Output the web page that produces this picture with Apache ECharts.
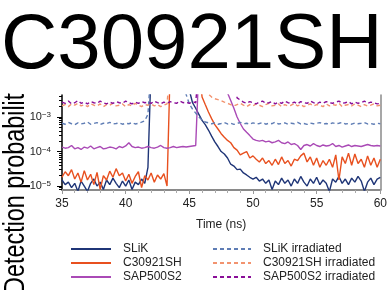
<!DOCTYPE html>
<html><head><meta charset="utf-8">
<script src="https://cdn.jsdelivr.net/npm/echarts@6/dist/echarts.min.js"></script>
<style>html,body{margin:0;padding:0;background:#fff}#c{width:390px;height:290px}</style>
</head><body><div id="c"></div>
<script>
const FONT = 'Liberation Sans, Arial, sans-serif';
const times = [35,35.25,35.5,35.75,36,36.25,36.5,36.75,37,37.25,37.5,37.75,38,38.25,38.5,38.75,39,39.25,39.5,39.75,
40,40.25,40.5,40.75,41,41.25,41.5,41.75,42,42.25,42.5,42.75,43,43.25,43.5,43.75,44,44.25,44.5,44.75,
45,45.25,45.5,45.75,46,46.25,46.5,46.75,47,47.25,47.5,47.75,48,48.25,48.5,48.75,49,49.25,49.5,49.75,
50,50.25,50.5,50.75,51,51.25,51.5,51.75,52,52.25,52.5,52.75,53,53.25,53.5,53.75,54,54.25,54.5,54.75,
55,55.25,55.5,55.75,56,56.25,56.5,56.75,57,57.25,57.5,57.75,58,58.25,58.5,58.75,59,59.25,59.5,59.75,60];

const slik = [1.5e-5,1.1e-5,1.3e-5,9e-6,1.2e-5,7e-6,1.4e-5,1.0e-5,7e-6,1.2e-5,
1.6e-5,1.0e-5,1.3e-5,8e-6,1.5e-5,1.1e-5,1.7e-5,1.2e-5,9e-6,1.4e-5,
1.0e-5,1.5e-5,8e-6,1.3e-5,1.1e-5,1.6e-5,1.2e-5,3.5e-5,3e-2,3e-2,
3e-2,3e-2,3e-2,3e-2,3e-2,3e-2,3e-2,3e-2,3e-2,3e-2,
6e-3,2.6e-3,1.8e-3,1.2e-3,8e-4,6e-4,4.2e-4,2.8e-4,1.9e-4,1.4e-4,
1.0e-4,8.5e-5,6.5e-5,4.3e-5,3.8e-5,3.0e-5,3.1e-5,2.4e-5,2.1e-5,1.8e-5,
1.6e-5,1.8e-5,1.4e-5,1.6e-5,1.2e-5,1.5e-5,8e-6,1.4e-5,1.1e-5,1.7e-5,
1.2e-5,1.5e-5,1.0e-5,1.6e-5,1.2e-5,1.9e-5,1.3e-5,1.0e-5,1.6e-5,1.2e-5,
1.8e-5,1.1e-5,1.5e-5,1.2e-5,7e-6,1.6e-5,1.3e-5,1.9e-5,1.2e-5,1.6e-5,
1.1e-5,1.7e-5,1.3e-5,1.9e-5,1.4e-5,7e-6,1.3e-5,1.7e-5,1.1e-5,1.6e-5,1.8e-5];

const c30921sh = [1.8e-5,2.6e-5,2.0e-5,3.0e-5,1.6e-5,2.4e-5,1.3e-5,2.8e-5,1.5e-5,2.2e-5,
1.1e-5,2.5e-5,8e-6,2.0e-5,1.5e-5,2.7e-5,1.8e-5,3.2e-5,2.0e-5,2.4e-5,
1.4e-5,2.2e-5,1.2e-5,1.9e-5,2.6e-5,9e-6,2.0e-5,1.5e-5,2.4e-5,1.3e-5,
2.1e-5,1.6e-5,2.3e-5,1.0e-5,3e-2,3e-2,3e-2,3e-2,3e-2,3e-2,
3e-2,3e-2,3e-2,3e-2,3.8e-3,2.3e-3,1.4e-3,9e-4,6e-4,4.5e-4,
3.3e-4,2.6e-4,2.1e-4,1.8e-4,1.3e-4,1.1e-4,8e-5,9e-5,1.0e-4,6.5e-5,
7.5e-5,6e-5,5e-5,6.5e-5,4.5e-5,5.5e-5,4e-5,6e-5,4.2e-5,7e-5,
4.5e-5,5.5e-5,3.8e-5,6e-5,5.5e-5,7.5e-5,9e-5,5e-5,7e-5,4e-5,
6.5e-5,3.5e-5,5.5e-5,4e-5,6e-5,3.5e-5,8e-5,1.5e-5,7e-5,4.5e-5,
9e-5,4e-5,8.5e-5,4.5e-5,6e-5,3.5e-5,7.5e-5,4e-5,6.5e-5,3.5e-5,6e-5];

const sap500s2 = [1.35e-4,1.25e-4,1.3e-4,1.5e-4,1.2e-4,1.3e-4,1.15e-4,1.35e-4,1.25e-4,1.45e-4,
1.2e-4,1.3e-4,1.4e-4,1.2e-4,1.25e-4,1.35e-4,1.3e-4,1.2e-4,1.4e-4,1.3e-4,
1.45e-4,1.8e-4,1.4e-4,1.3e-4,1.35e-4,1.25e-4,1.3e-4,1.4e-4,1.3e-4,1.25e-4,
1.35e-4,1.5e-4,1.3e-4,1.25e-4,1.3e-4,1.4e-4,1.3e-4,1.35e-4,1.4e-4,1.35e-4,
1.4e-4,1.45e-4,1.5e-4,3e-2,3e-2,3e-2,3e-2,3e-2,3e-2,3e-2,
3e-2,3e-2,5e-3,3e-3,1.8e-3,1.0e-3,6.5e-4,4.5e-4,3.6e-4,2.9e-4,
2.3e-4,2.1e-4,2.0e-4,2.1e-4,1.9e-4,2.0e-4,1.8e-4,1.9e-4,2.1e-4,1.8e-4,
1.7e-4,1.9e-4,1.6e-4,1.7e-4,1.5e-4,1.15e-4,1.5e-4,1.6e-4,1.45e-4,1.7e-4,
1.5e-4,1.4e-4,1.55e-4,1.45e-4,1.5e-4,1.7e-4,1.4e-4,1.5e-4,1.35e-4,1.45e-4,
1.55e-4,1.4e-4,1.5e-4,1.45e-4,1.4e-4,1.5e-4,1.6e-4,1.5e-4,1.45e-4,1.5e-4,1.45e-4];

const slikIrr = [6.6e-4,6.2e-4,7.0e-4,6.4e-4,6.0e-4,6.8e-4,6.3e-4,6.6e-4,7.2e-4,6.2e-4,
6.5e-4,6.9e-4,6.1e-4,6.6e-4,6.4e-4,7.0e-4,6.3e-4,6.5e-4,6.8e-4,6.2e-4,
6.6e-4,6.4e-4,6.9e-4,6.3e-4,6.6e-4,7.1e-4,7.8e-4,1.2e-3,3e-2,3e-2,
3e-2,3e-2,3e-2,3e-2,3e-2,3e-2,3e-2,3e-2,3e-2,4.5e-3,
2.4e-3,1.7e-3,1.3e-3,1.0e-3,8.2e-4,7.2e-4,6.8e-4,6.4e-4,6.7e-4,6.2e-4,
6.5e-4,6.9e-4,6.3e-4,6.6e-4,6.1e-4,6.5e-4,7.0e-4,6.4e-4,6.6e-4,6.2e-4,
6.8e-4,6.3e-4,6.5e-4,6.9e-4,6.2e-4,6.6e-4,6.4e-4,7.1e-4,6.3e-4,6.5e-4,
6.8e-4,6.2e-4,6.6e-4,6.4e-4,7.0e-4,6.3e-4,6.5e-4,6.1e-4,6.7e-4,6.4e-4,
6.6e-4,6.9e-4,6.3e-4,6.5e-4,6.2e-4,6.8e-4,6.4e-4,6.6e-4,7.0e-4,6.3e-4,
6.5e-4,6.2e-4,6.7e-4,6.4e-4,6.6e-4,6.9e-4,6.3e-4,6.5e-4,6.2e-4,6.6e-4,6.4e-4];

const c30921shIrr = [2.1e-3,2.3e-3,2.0e-3,2.4e-3,2.2e-3,2.5e-3,2.1e-3,2.3e-3,2.0e-3,2.4e-3,
2.2e-3,2.1e-3,2.4e-3,2.0e-3,2.3e-3,2.2e-3,2.5e-3,2.1e-3,2.2e-3,2.4e-3,
2.0e-3,2.3e-3,2.1e-3,2.5e-3,2.2e-3,2.0e-3,2.3e-3,2.2e-3,2.4e-3,2.1e-3,
2.3e-3,2.0e-3,2.2e-3,2.4e-3,3e-2,3e-2,3e-2,3e-2,3e-2,3e-2,
3e-2,3e-2,3e-2,3e-2,3e-2,3e-2,4.6e-3,3.8e-3,3.4e-3,3.2e-3,
3.0e-3,2.7e-3,2.5e-3,2.3e-3,2.1e-3,2.3e-3,2.5e-3,2.2e-3,2.0e-3,2.3e-3,
2.1e-3,2.4e-3,2.2e-3,2.0e-3,2.3e-3,2.5e-3,2.1e-3,2.2e-3,2.4e-3,2.0e-3,
2.3e-3,2.1e-3,2.2e-3,2.5e-3,2.1e-3,2.3e-3,2.0e-3,2.2e-3,2.4e-3,2.1e-3,
2.3e-3,2.2e-3,2.0e-3,2.4e-3,2.1e-3,2.3e-3,2.2e-3,2.5e-3,2.0e-3,2.2e-3,
2.3e-3,2.1e-3,2.4e-3,2.2e-3,2.0e-3,2.3e-3,2.1e-3,2.2e-3,2.4e-3,2.1e-3,2.2e-3];

const sap500s2Irr = [2.7e-3,2.5e-3,2.9e-3,2.4e-3,2.6e-3,3.0e-3,2.5e-3,2.7e-3,2.4e-3,2.8e-3,
2.6e-3,2.5e-3,2.9e-3,2.6e-3,2.4e-3,2.7e-3,2.5e-3,2.8e-3,2.6e-3,2.5e-3,
2.9e-3,2.6e-3,2.4e-3,2.7e-3,2.5e-3,2.8e-3,2.6e-3,2.7e-3,2.5e-3,2.9e-3,
2.6e-3,2.4e-3,2.7e-3,2.5e-3,2.8e-3,2.6e-3,2.5e-3,2.9e-3,2.6e-3,2.7e-3,
2.5e-3,2.8e-3,2.6e-3,3e-2,3e-2,3e-2,3e-2,3e-2,3e-2,3e-2,
3e-2,3e-2,3e-2,3e-2,3e-2,3.6e-3,3.1e-3,2.7e-3,2.5e-3,2.8e-3,
2.6e-3,2.4e-3,2.7e-3,2.9e-3,2.5e-3,2.6e-3,2.8e-3,2.4e-3,2.7e-3,2.5e-3,
2.9e-3,2.6e-3,2.5e-3,2.7e-3,2.4e-3,2.8e-3,2.6e-3,2.5e-3,2.9e-3,2.6e-3,
2.4e-3,2.7e-3,2.5e-3,2.8e-3,2.6e-3,2.5e-3,2.7e-3,2.9e-3,2.5e-3,2.6e-3,
2.8e-3,2.4e-3,2.7e-3,2.5e-3,2.6e-3,2.9e-3,2.5e-3,2.7e-3,2.6e-3,2.4e-3,2.5e-3];

const seriesNames = ['SLiK','C30921SH','SAP500S2','SLiK irradiated','C30921SH irradiated','SAP500S2 irradiated'];
const seriesColors = ['#1f3577','#e8501f','#aa4ab6','#5f7db5','#f2936f','#8a0e98'];
const majorYTicks = [1e-5,1e-4,1e-3];
const minorYTicks = [8e-6,9e-6,2e-5,3e-5,4e-5,5e-5,6e-5,7e-5,8e-5,9e-5,2e-4,3e-4,4e-4,5e-4,6e-4,7e-4,8e-4,9e-4,2e-3,3e-3,4e-3];
const Y_MIN = 7.7e-6, Y_MAX = 4.35e-3;

const pairs = arr => times.map((t, i) => [t, arr[i]]);
const allData = [slik, c30921sh, sap500s2, slikIrr, c30921shIrr, sap500s2Irr];

const chart = echarts.init(document.getElementById('c'), null, {renderer: 'canvas'});
const logAxisBase = {type: 'log', logBase: 10, min: Y_MIN, max: Y_MAX, splitLine: {show: false}};
const legendBase = {orient: 'vertical', top: 243, padding: 0, itemHeight: 14, itemGap: 2,
  itemStyle: {opacity: 0},
  textStyle: {fontSize: 12, color: '#222', fontFamily: FONT, padding: [0, 0, 0, 7]}};

chart.setOption({
  animation: false,
  backgroundColor: '#fff',
  textStyle: {fontFamily: FONT},
  title: {text: 'C30921SH', left: 1, top: 7, padding: 0,
    textStyle: {fontSize: 78, fontWeight: 'normal', color: '#000', fontFamily: FONT}},
  grid: {left: 62, right: 7, top: 95, bottom: 100, containLabel: false},
  legend: [
    Object.assign({}, legendBase, {data: seriesNames.slice(0, 3), left: 70, itemWidth: 40}),
    Object.assign({}, legendBase, {data: seriesNames.slice(3), left: 212, itemWidth: 38})
  ],
  xAxis: {
    type: 'value', min: 35, max: 60, interval: 5,
    axisLine: {onZero: false, lineStyle: {color: '#8a8a8a', width: 2}},
    axisTick: {length: 4, lineStyle: {color: '#999'}},
    minorTick: {show: true, splitNumber: 5, length: 3, lineStyle: {color: '#aaa'}},
    splitLine: {show: false},
    axisLabel: {fontSize: 12, color: '#222', margin: 8, fontFamily: FONT},
    name: 'Time (ns)', nameLocation: 'middle', nameGap: 29,
    nameTextStyle: {fontSize: 12, color: '#222', fontFamily: FONT}
  },
  yAxis: [
    Object.assign({}, logAxisBase, {
      position: 'left',
      axisLine: {show: true, onZero: false, lineStyle: {color: '#000', width: 1.5}},
      axisTick: {show: true, length: 5, lineStyle: {color: '#000'}, customValues: majorYTicks},
      axisLabel: {
        margin: 11, customValues: majorYTicks,
        formatter: v => {
          const e = Math.round(Math.log10(v));
          if (Math.abs(Math.log10(v) - e) > 1e-6) return '';
          return '{a|10}{b|\u2212' + (-e) + '}';
        },
        rich: {
          a: {fontSize: 11, color: '#222', fontFamily: FONT, lineHeight: 12},
          b: {fontSize: 8, color: '#222', fontFamily: FONT, lineHeight: 8, verticalAlign: 'top'}
        }
      }
    }),
    Object.assign({}, logAxisBase, {
      position: 'left',
      axisLine: {show: false, onZero: false},
      axisTick: {show: true, length: 3, lineStyle: {color: '#000'}, customValues: minorYTicks},
      axisLabel: {show: false}
    }),
    Object.assign({}, logAxisBase, {
      position: 'right',
      axisLine: {show: true, onZero: false, lineStyle: {color: '#8a8a8a', width: 1.5}},
      axisTick: {show: false},
      axisLabel: {show: false}
    })
  ],
  graphic: [
    {type: 'text', x: 16, y: 294, rotation: Math.PI / 2, scaleX: 0.78, z: 1,
     style: {text: 'Detection probability', fontSize: 30, fontFamily: FONT, fill: '#000',
             align: 'left', verticalAlign: 'middle'}},
    {type: 'rect', shape: {x: 0, y: 72, width: 40, height: 21}, style: {fill: '#fff'}, z: 2}
  ],
  series: allData.map((arr, k) => ({
    name: seriesNames[k], type: 'line', data: pairs(arr), yAxisIndex: 0,
    symbol: 'none', showSymbol: false, clip: true,
    color: seriesColors[k],
    lineStyle: {color: seriesColors[k], width: 1.4, type: k >= 3 ? [4, 3] : 'solid'},
    z: k >= 3 ? 3 : 2
  }))
});
</script></body></html>
